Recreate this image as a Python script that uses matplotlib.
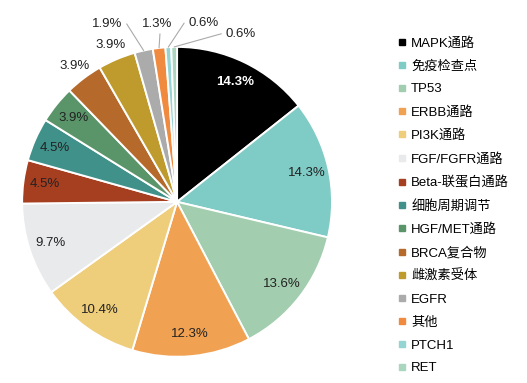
import matplotlib.pyplot as plt
from matplotlib.lines import Line2D
import numpy as np

plt.rcParams['font.family'] = ['Liberation Sans', 'Noto Sans CJK SC', 'DejaVu Sans']

# ---------------- DATA ----------------
labels = ["MAPK通路", "免疫检查点", "TP53", "ERBB通路", "PI3K通路", "FGF/FGFR通路",
          "Beta-联蛋白通路", "细胞周期调节", "HGF/MET通路", "BRCA复合物", "雌激素受体",
          "EGFR", "其他", "PTCH1", "RET"]
values = [14.3, 14.3, 13.6, 12.3, 10.4, 9.7, 4.5, 4.5, 3.9, 3.9, 3.9, 1.9, 1.3, 0.6, 0.6]
colors = ["#000000", "#7fcbc6", "#a2cdae", "#f0a152", "#eecd7b", "#e9eaec",
          "#a63e20", "#3f918a", "#5a9569", "#b5692b", "#bf9a2c", "#ababab",
          "#f08a3f", "#94d4d2", "#aad6bf"]

# label placement: inside for big slices, outside for the small ones
inside = [True] * 9 + [False] * 6
# small slices: text position, leader start on text, stub direction
leader_text = {11: ((-0.45, 1.15), (1, 0.5), 0),
               12: ((-0.13, 1.15), (0.6, 0), -90),
               13: ((0.17, 1.155), (0, 0.5), 180),
               14: ((0.41, 1.085), (0, 0.5), 180)}

# ---------------- PLOT ----------------
fig = plt.figure(figsize=(5.27, 3.83), dpi=100)
ax = fig.add_axes([0.336 - 0.294, 0.473 - 0.405, 0.588, 0.81])

wedges, _ = ax.pie(values, colors=colors, startangle=90, counterclock=False,
                   wedgeprops=dict(edgecolor="white", linewidth=1.4))

for i, w in enumerate(wedges):
    ang = np.deg2rad((w.theta1 + w.theta2) / 2)
    txt = f"{values[i]:.1f}%"
    if inside[i]:
        tc = "white" if i == 0 else "#222222"
        ax.text(0.86 * np.cos(ang), 0.86 * np.sin(ang), txt, ha="center", va="center",
                fontsize=9.5, color=tc, fontweight="bold" if i == 0 else "normal")
    elif i in leader_text:
        pos, rel, angA = leader_text[i]
        ax.annotate(txt, xy=(np.cos(ang), np.sin(ang)), xytext=pos,
                    ha="center", va="center", fontsize=9.5, color="#222222",
                    arrowprops=dict(arrowstyle="-", color="#aaaaaa", lw=0.8, relpos=rel,
                                    connectionstyle=f"arc,angleA={angA},armA=4,angleB=0,armB=0,rad=0",
                                    shrinkA=1, shrinkB=0))
    else:
        ax.text(1.1 * np.cos(ang), 1.1 * np.sin(ang), txt, ha="center", va="center",
                fontsize=9.5, color="#222222")

ax.set_xlim(-1, 1)
ax.set_ylim(-1, 1)
ax.set_aspect("equal")

handles = [Line2D([], [], marker="s", linestyle="none", markersize=4,
                  markerfacecolor=c, markeredgecolor=c) for c in colors]
fig.legend(handles, labels, loc="upper left", bbox_to_anchor=(0.745, 0.918),
           frameon=False, fontsize=9.5, handlelength=0.6, handletextpad=0.4,
           labelspacing=0.805, borderaxespad=0)

fig.savefig("out.png", dpi=100)
